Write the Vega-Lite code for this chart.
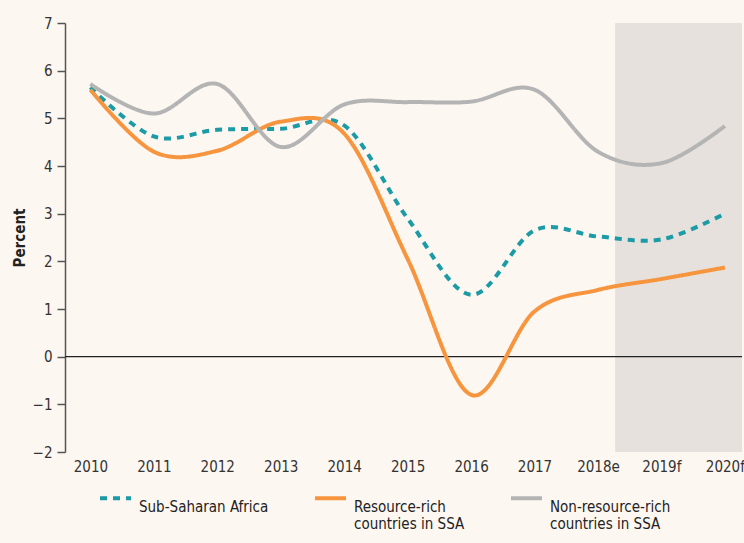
{
  "$schema": "https://vega.github.io/schema/vega-lite/v6.json",
  "width": 677,
  "height": 429,
  "autosize": {"type": "none"},
  "padding": {"left": 65, "top": 23, "right": 2, "bottom": 91},
  "background": "#fdf7f1",
  "config": {
    "view": {"stroke": null},
    "font": "DejaVu Sans Condensed, sans-serif",
    "axisX": {
      "values": [2010, 2011, 2012, 2013, 2014, 2015, 2016, 2017, 2018, 2019, 2020],
      "labelExpr": "datum.value == 2018 ? '2018e' : datum.value >= 2019 ? datum.value + 'f' : '' + datum.value",
      "domain": false,
      "ticks": false,
      "grid": false,
      "labelFontSize": 15,
      "labelColor": "#333",
      "labelPadding": 7
    },
    "axisY": {
      "values": [-2, -1, 0, 1, 2, 3, 4, 5, 6, 7],
      "grid": false,
      "domainColor": "#555",
      "domainWidth": 1.5,
      "tickColor": "#555",
      "tickWidth": 1.5,
      "tickSize": 8,
      "labelFontSize": 15,
      "labelColor": "#333",
      "labelPadding": 5,
      "titleFontSize": 15,
      "titleFontWeight": "bold",
      "titleColor": "#222",
      "titlePadding": 5
    },
    "legend": {
      "orient": "none",
      "legendX": 33,
      "legendY": 466,
      "direction": "horizontal",
      "columns": 3,
      "columnPadding": 38,
      "symbolType": "M-1,-0.55H1",
      "symbolSize": 960,
      "symbolStrokeWidth": 4,
      "labelFontSize": 15,
      "labelColor": "#222",
      "labelOffset": 6,
      "labelBaseline": "middle",
      "title": null
    }
  },
  "datasets": {
    "series": [
      {"year": 2010, "series": "Sub-Saharan Africa", "value": 5.65},
      {"year": 2011, "series": "Sub-Saharan Africa", "value": 4.62},
      {"year": 2012, "series": "Sub-Saharan Africa", "value": 4.76},
      {"year": 2013, "series": "Sub-Saharan Africa", "value": 4.78},
      {"year": 2014, "series": "Sub-Saharan Africa", "value": 4.85},
      {"year": 2015, "series": "Sub-Saharan Africa", "value": 2.9},
      {"year": 2016, "series": "Sub-Saharan Africa", "value": 1.3},
      {"year": 2017, "series": "Sub-Saharan Africa", "value": 2.65},
      {"year": 2018, "series": "Sub-Saharan Africa", "value": 2.52},
      {"year": 2019, "series": "Sub-Saharan Africa", "value": 2.46},
      {"year": 2020, "series": "Sub-Saharan Africa", "value": 3.0},
      {"year": 2010, "series": "Resource-rich countries in SSA", "value": 5.6},
      {"year": 2011, "series": "Resource-rich countries in SSA", "value": 4.3},
      {"year": 2012, "series": "Resource-rich countries in SSA", "value": 4.32},
      {"year": 2013, "series": "Resource-rich countries in SSA", "value": 4.93},
      {"year": 2014, "series": "Resource-rich countries in SSA", "value": 4.68},
      {"year": 2015, "series": "Resource-rich countries in SSA", "value": 2.05},
      {"year": 2016, "series": "Resource-rich countries in SSA", "value": -0.8},
      {"year": 2017, "series": "Resource-rich countries in SSA", "value": 0.95},
      {"year": 2018, "series": "Resource-rich countries in SSA", "value": 1.4},
      {"year": 2019, "series": "Resource-rich countries in SSA", "value": 1.63},
      {"year": 2020, "series": "Resource-rich countries in SSA", "value": 1.87},
      {"year": 2010, "series": "Non-resource-rich countries in SSA", "value": 5.72},
      {"year": 2011, "series": "Non-resource-rich countries in SSA", "value": 5.1},
      {"year": 2012, "series": "Non-resource-rich countries in SSA", "value": 5.72},
      {"year": 2013, "series": "Non-resource-rich countries in SSA", "value": 4.4},
      {"year": 2014, "series": "Non-resource-rich countries in SSA", "value": 5.29},
      {"year": 2015, "series": "Non-resource-rich countries in SSA", "value": 5.34},
      {"year": 2016, "series": "Non-resource-rich countries in SSA", "value": 5.35},
      {"year": 2017, "series": "Non-resource-rich countries in SSA", "value": 5.6},
      {"year": 2018, "series": "Non-resource-rich countries in SSA", "value": 4.3},
      {"year": 2019, "series": "Non-resource-rich countries in SSA", "value": 4.06},
      {"year": 2020, "series": "Non-resource-rich countries in SSA", "value": 4.84}
    ]
  },
  "layer": [
    {
      "data": {"values": [{"shade": "forecast"}]},
      "mark": {"type": "rect", "color": "#e6e1dc"},
      "encoding": {
        "x": {"datum": 2018.27, "type": "quantitative", "scale": {"domain": [2009.6, 2020.27], "nice": false, "zero": false}, "title": null},
        "x2": {"datum": 2020.27},
        "y": {"datum": 7, "type": "quantitative", "scale": {"domain": [-2, 7], "nice": false, "zero": false}, "title": "Percent"},
        "y2": {"datum": -2}
      }
    },
    {
      "data": {"values": [{"zero": 0}]},
      "mark": {"type": "rule", "color": "#222", "strokeWidth": 1.2},
      "encoding": {
        "y": {"datum": 0, "type": "quantitative", "title": "Percent"}
      }
    },
    {
      "data": {"name": "series"},
      "mark": {"type": "line", "interpolate": "cardinal", "strokeWidth": 4},
      "encoding": {
        "x": {
          "field": "year",
          "type": "quantitative",
          "scale": {"domain": [2009.6, 2020.27], "nice": false, "zero": false},
          "title": null
        },
        "y": {
          "field": "value",
          "type": "quantitative",
          "scale": {"domain": [-2, 7], "nice": false, "zero": false},
          "title": "Percent"
        },
        "color": {
          "field": "series",
          "type": "nominal",
          "sort": ["Sub-Saharan Africa", "Resource-rich countries in SSA", "Non-resource-rich countries in SSA"],
          "scale": {
            "domain": ["Sub-Saharan Africa", "Resource-rich countries in SSA", "Non-resource-rich countries in SSA"],
            "range": ["#1a9ba5", "#f7953f", "#b4b4b4"]
          },
          "legend": {
            "labelExpr": "datum.label == 'Resource-rich countries in SSA' ? ['Resource-rich', 'countries in SSA'] : datum.label == 'Non-resource-rich countries in SSA' ? ['Non-resource-rich', 'countries in SSA'] : [datum.label, '']"
          }
        },
        "strokeDash": {
          "field": "series",
          "type": "nominal",
          "sort": ["Sub-Saharan Africa", "Resource-rich countries in SSA", "Non-resource-rich countries in SSA"],
          "scale": {
            "domain": ["Sub-Saharan Africa", "Resource-rich countries in SSA", "Non-resource-rich countries in SSA"],
            "range": [[7, 6], [1, 0], [1, 0]]
          },
          "legend": {
            "labelExpr": "datum.label == 'Resource-rich countries in SSA' ? ['Resource-rich', 'countries in SSA'] : datum.label == 'Non-resource-rich countries in SSA' ? ['Non-resource-rich', 'countries in SSA'] : [datum.label, '']"
          }
        }
      }
    }
  ]
}
